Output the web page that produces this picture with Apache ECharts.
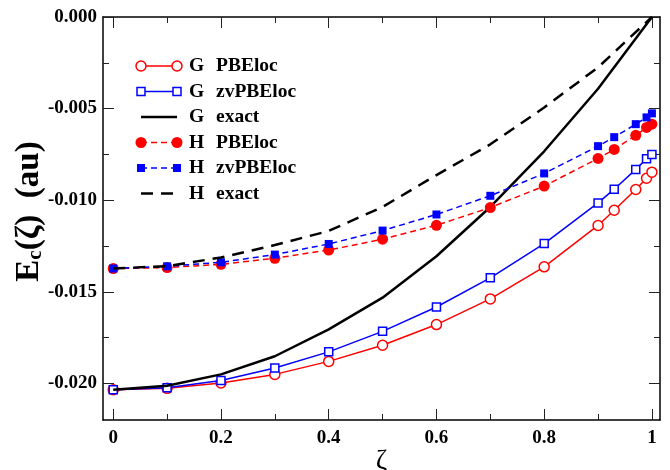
<!DOCTYPE html>
<html><head><meta charset="utf-8">
<script src="https://cdn.jsdelivr.net/npm/echarts@6/dist/echarts.min.js"></script>
<style>html,body{margin:0;padding:0;background:#fff}#c{width:670px;height:470px}</style>
</head><body><div id="c"></div>
<script>
// ---- data ----
const zeta = [0, 0.1, 0.2, 0.3, 0.4, 0.5, 0.6, 0.7, 0.8, 0.9, 0.93, 0.97, 0.99, 1.0];
const zetaExact = [0, 0.1, 0.2, 0.3, 0.4, 0.5, 0.6, 0.7, 0.8, 0.9, 1.0];
const gPBEloc   = [-0.02035, -0.02027, -0.01998, -0.01951, -0.01880, -0.01792, -0.01679, -0.01539, -0.01364, -0.01138, -0.01055, -0.00942, -0.00880, -0.00847];
const gZvPBEloc = [-0.02035, -0.02024, -0.01984, -0.01916, -0.01828, -0.01716, -0.01583, -0.01424, -0.01237, -0.01015, -0.00940, -0.00832, -0.00774, -0.00750];
const gExact    = [-0.02035, -0.02013, -0.01951, -0.01852, -0.01705, -0.01532, -0.01306, -0.01037, -0.00733, -0.00392, 0];
const hPBEloc   = [-0.01373, -0.01368, -0.01350, -0.01317, -0.01272, -0.01213, -0.01137, -0.01040, -0.00923, -0.00772, -0.00723, -0.00646, -0.00603, -0.00585];
const hZvPBEloc = [-0.01373, -0.01361, -0.01339, -0.01297, -0.01239, -0.01166, -0.01078, -0.00976, -0.00854, -0.00705, -0.00656, -0.00585, -0.00548, -0.00526];
const hExact    = [-0.01373, -0.01360, -0.01313, -0.01245, -0.01168, -0.01037, -0.00863, -0.00695, -0.00494, -0.00275, 0];
const xMajorTicks = [0, 0.2, 0.4, 0.6, 0.8, 1];
const xMinorTicks = [0.1, 0.3, 0.5, 0.7, 0.9];
const yMajorTicks = [0, -0.005, -0.010, -0.015, -0.020];
const yMinorTicks = [-0.0025, -0.0075, -0.0125, -0.0175];
const seriesNames = ['G  PBEloc', 'G  zvPBEloc', 'G  exact', 'H  PBEloc', 'H  zvPBEloc', 'H  exact'];

// ---- styling ----
const FONT = 'Liberation Serif';
const RED = '#ff0000', BLUE = '#0000ff', BLACK = '#000000';
const styles = [
  {x: zeta, y: gPBEloc, color: RED, width: 1.5, dash: 'solid', symbol: 'circle', size: 10, filled: false},
  {x: zeta, y: gZvPBEloc, color: BLUE, width: 1.5, dash: 'solid', symbol: 'rect', size: 8, filled: false},
  {x: zetaExact, y: gExact, color: BLACK, width: 2.5, dash: 'solid', symbol: 'none', size: 0, filled: false},
  {x: zeta, y: hPBEloc, color: RED, width: 1.5, dash: [6, 4], symbol: 'circle', size: 11, filled: true},
  {x: zeta, y: hZvPBEloc, color: BLUE, width: 1.5, dash: [6, 4], symbol: 'rect', size: 8, filled: true},
  {x: zetaExact, y: hExact, color: BLACK, width: 2.5, dash: [12, 8], symbol: 'none', size: 0, filled: false}
];

const XMIN = -0.019, XMAX = 1.015, YMIN = -0.022, YMAX = 0;
const lineStyle = {color: BLACK, width: 1.5};
const labelStyle = {fontFamily: FONT, fontWeight: 'bold', fontSize: 19, color: BLACK};

function xAxis(position, ticks, len, opts) {
  return Object.assign({
    type: 'value', position: position, min: XMIN, max: XMAX,
    axisLine: {show: !!opts.line, onZero: false, lineStyle: lineStyle},
    axisTick: {show: true, inside: true, length: len, customValues: ticks, lineStyle: {color: '#222', width: 1}},
    axisLabel: opts.label ? Object.assign({customValues: ticks, margin: 9}, labelStyle) : {show: false},
    splitLine: {show: false}
  }, opts.extra || {});
}
function yAxis(position, ticks, len, opts) {
  return Object.assign({
    type: 'value', position: position, min: YMIN, max: YMAX,
    axisLine: {show: !!opts.line, onZero: false, lineStyle: lineStyle},
    axisTick: {show: true, inside: true, length: len, customValues: ticks, lineStyle: {color: '#222', width: 1}},
    axisLabel: opts.label ? Object.assign({customValues: ticks, margin: 6, formatter: v => v.toFixed(3)}, labelStyle) : {show: false},
    splitLine: {show: false}
  }, opts.extra || {});
}

const series = styles.map((s, i) => ({
  name: seriesNames[i],
  type: 'line',
  xAxisIndex: 0, yAxisIndex: 0,
  data: s.x.map((v, k) => [v, s.y[k]]),
  symbol: s.symbol, symbolSize: s.size, showSymbol: s.symbol !== 'none',
  lineStyle: {color: s.color, width: s.width, type: s.dash},
  itemStyle: {color: s.filled ? s.color : '#ffffff', borderColor: s.color, borderWidth: s.filled ? 0 : 1.5},
  emphasis: {disabled: true},
  clip: false, animation: false, z: 2 + i
}));

// ---- legend drawn as graphic ----
const legendGraphics = [];
const LX1 = 141, LX2 = 177, LTEXT1 = 189, LTEXT2 = 216, LTOP = 66, LSTEP = 25.5;
const LFONT = 'bold 19.5px "Liberation Serif"';
styles.forEach((s, i) => {
  const y = LTOP + i * LSTEP;
  legendGraphics.push({type: 'line', shape: {x1: LX1, y1: y, x2: LX2, y2: y},
    style: {stroke: s.color, lineWidth: s.width, lineDash: s.dash === 'solid' ? null : s.dash}, z: 100});
  if (s.symbol !== 'none') {
    [LX1, LX2].forEach(cx => {
      const st = {fill: s.filled ? s.color : '#fff', stroke: s.filled ? null : s.color, lineWidth: 1.5};
      if (s.symbol === 'circle') legendGraphics.push({type: 'circle', shape: {cx: cx, cy: y, r: s.size / 2}, style: st, z: 101});
      else legendGraphics.push({type: 'rect', shape: {x: cx - s.size / 2, y: y - s.size / 2, width: s.size, height: s.size}, style: st, z: 101});
    });
  }
  const parts = seriesNames[i].split(/\s+/);
  legendGraphics.push({type: 'text', x: LTEXT1, y: y, style: {text: parts[0], font: LFONT, fill: BLACK, textVerticalAlign: 'middle'}, z: 101});
  legendGraphics.push({type: 'text', x: LTEXT2, y: y, style: {text: parts.slice(1).join(' '), font: LFONT, fill: BLACK, textVerticalAlign: 'middle'}, z: 101});
});

const chart = echarts.init(document.getElementById('c'), null, {renderer: 'canvas'});
chart.setOption({
  animation: false,
  backgroundColor: '#fff',
  grid: {left: 103, right: 10, top: 17, bottom: 50, containLabel: false, outerBoundsMode: 'none'},
  xAxis: [
    xAxis('bottom', xMajorTicks, 11, {line: true, label: true, extra: {
      name: 'ζ', nameLocation: 'middle', nameGap: 28, nameMoveOverlap: false,
      nameTextStyle: {fontFamily: FONT, fontSize: 28, color: BLACK}}}),
    xAxis('bottom', xMinorTicks, 6, {}),
    xAxis('top', xMajorTicks, 11, {line: true}),
    xAxis('top', xMinorTicks, 6, {})
  ],
  yAxis: [
    yAxis('left', yMajorTicks, 11, {line: true, label: true, extra: {
      name: '{p|}{a|E}{b|c}{a|(ζ)  (au)}', nameLocation: 'middle', nameGap: 57, nameRotate: 90, nameMoveOverlap: false,
      nameTextStyle: {rich: {
        p: {width: 14, fontSize: 10, lineHeight: 10},
        a: {fontFamily: FONT, fontWeight: 'bold', fontSize: 33, lineHeight: 33, verticalAlign: 'top', color: BLACK},
        b: {fontFamily: FONT, fontWeight: 'bold', fontSize: 21, lineHeight: 21, padding: [20, 0, 0, 0], verticalAlign: 'bottom', color: BLACK}
      }}}}),
    yAxis('left', yMinorTicks, 6, {}),
    yAxis('right', yMajorTicks, 11, {line: true}),
    yAxis('right', yMinorTicks, 6, {})
  ],
  series: series,
  graphic: legendGraphics
});
</script>
</body></html>
